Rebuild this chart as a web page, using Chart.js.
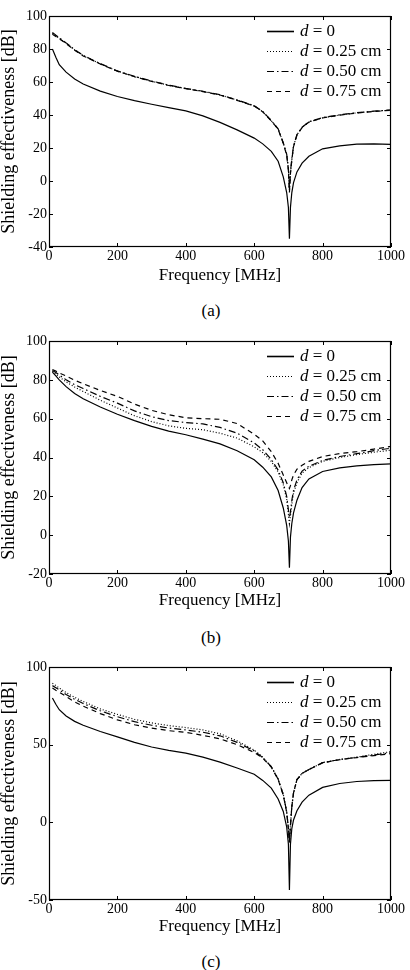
<!DOCTYPE html>
<html>
<head>
<meta charset="utf-8">
<script src="https://cdn.jsdelivr.net/npm/chart.js@4.4.1/dist/chart.umd.min.js"></script>
<style>
    body { margin: 0; background: #fff; }
    .panel { position: absolute; left: 0; width: 410px; height: 290px; }
    .caption { position: absolute; left: 0; width: 422px; text-align: center; font: 17px "Liberation Serif", serif; line-height: 20px; color: #000; }
</style>
</head>
<body>
<div class="panel" style="top:0px"><canvas id="chartA" width="410" height="290"></canvas></div>
<div class="caption" style="top:301px">(a)</div>
<div class="panel" style="top:325px"><canvas id="chartB" width="410" height="290"></canvas></div>
<div class="caption" style="top:628px">(b)</div>
<div class="panel" style="top:651px"><canvas id="chartC" width="410" height="290"></canvas></div>
<div class="caption" style="top:952px">(c)</div>

<script>
// --- Data ---
const freqMHz = [10, 20, 30, 50, 75, 100, 150, 200, 250, 300, 350, 400, 450, 500, 550, 600, 625, 650, 670, 685, 695, 700, 703, 706, 710, 715, 725, 740, 760, 800, 850, 900, 950, 1000];

const legendLabels = ['d = 0', 'd = 0.25 cm', 'd = 0.50 cm', 'd = 0.75 cm'];

// panel (a)
const seA0 = [80, 75, 70.5, 66, 61.8, 58.8, 54.5, 51.2, 48.7, 46.5, 44.5, 42.5, 39.5, 35.5, 31, 26, 22.5, 18, 12, 2.5, -7, -16, -35, -16, -7, -1, 5.5, 10.8, 15, 19.5, 21.3, 22.3, 22.5, 22.2];
const seA25 = [89.5, 88, 86.5, 83.5, 79.5, 76, 71, 66.6, 63.3, 60.5, 58, 56, 54.3, 52.2, 49, 45.5, 42, 36.5, 31.5, 23, 16, 7, -6, 5, 13, 21, 28, 32.5, 35.8, 38.3, 40, 41.3, 42.2, 43];
const seA50 = [90, 88.4, 86.8, 83.7, 79.6, 76.1, 71.1, 66.7, 63.4, 60.6, 58.1, 56.1, 54.4, 52.3, 49.1, 45.6, 42.1, 36.6, 31.6, 23.2, 16.3, 7.5, -5, 5.5, 13.3, 21.2, 28.1, 32.6, 35.9, 38.4, 40.1, 41.4, 42.3, 43.1];
const seA75 = [89, 87.6, 86.2, 83.3, 79.3, 75.8, 70.9, 66.5, 63.2, 60.4, 57.9, 55.9, 54.2, 52.1, 48.9, 45.4, 41.9, 36.4, 31.4, 22.8, 15.7, 6.5, -7, 4.5, 12.7, 20.8, 27.9, 32.4, 35.7, 38.2, 39.9, 41.2, 42.1, 42.9];

// panel (b)
const seB0 = [84, 82, 80, 76.5, 73, 70.3, 66, 62.3, 59, 56, 53.6, 51.7, 49.5, 47, 43.5, 38.8, 35, 30, 23, 14, 5, -3, -16.8, -1, 6, 11.5, 18, 24.5, 29, 32.8, 34.7, 35.7, 36.3, 36.7];
const seB25 = [84.5, 83, 81.5, 79, 76.3, 74, 69.5, 65.5, 61.5, 58.5, 56.3, 55, 54.3, 52.5, 50, 45.5, 42.5, 38, 32.5, 26, 18.5, 11, 6, 10, 16, 21.5, 27, 32, 34.8, 38, 40, 41.5, 42.7, 43.8];
const seB50 = [84.8, 83.8, 82.5, 80, 77.5, 75.5, 71.5, 68, 64, 61, 59, 58, 57.3, 55.5, 52.5, 47.5, 44, 39, 33.5, 27, 20, 13, 9, 12, 18, 23, 28.5, 33, 35.5, 38.5, 40.5, 42, 43.5, 44.8];
const seB75 = [85.3, 84.5, 83.5, 82, 79.8, 78, 74.5, 71.5, 67.5, 64.3, 62, 60.5, 60, 59.7, 57.5, 52, 48.5, 43, 37, 31, 27, 25, 24, 25.5, 28.5, 31, 34, 36, 38, 40.5, 42, 43, 44.3, 45.7];

// panel (c)
const seC0 = [80, 76, 72.5, 68.5, 65, 62.5, 58.5, 55, 51.5, 48.5, 46.3, 44.5, 42, 38.8, 35, 31, 27, 22, 15, 7, -3, -14, -43.5, -14, -4, 1.5, 7.5, 13, 17.5, 22.5, 25, 26.3, 26.8, 27];
const seC25 = [89.5, 88, 86.5, 83.5, 80.5, 77.8, 73, 69.5, 66.3, 64, 62.3, 61, 59.5, 57, 52.5, 46.5, 42, 36, 28, 18, 7, -4, -13, -2, 10, 19, 27.5, 31.5, 34, 38.5, 40.5, 42, 43.8, 45.5];
const seC50 = [88, 86.7, 85.3, 82.3, 79.2, 76.5, 71.8, 68, 64.8, 62.5, 60.7, 59.5, 58, 55.7, 51.5, 46, 41.7, 35.8, 27.8, 17.8, 6.8, -4, -13, -2, 10, 19, 27.5, 31.5, 34, 38.4, 40.4, 41.8, 43.3, 44.8];
const seC75 = [86.5, 85, 83.8, 81, 77.5, 74.8, 70, 66, 62.8, 60.7, 59, 57.9, 56, 53.8, 50, 45, 41.3, 35.5, 27.5, 17.5, 6.5, -4, -13, -2, 10, 19, 27.5, 31.5, 34, 38.3, 40.3, 41.7, 43, 44.2];

// --- Tick labels ---
const xTickValues = [0, 200, 400, 600, 800, 1000];
const yTicksA = [-40, -20, 0, 20, 40, 60, 80, 100];
const yTicksB = [-20, 0, 20, 40, 60, 80, 100];
const yTicksC = [-50, 0, 50, 100];

// --- Line styles (d = 0, 0.25, 0.50, 0.75) ---
const lineDashes = [[], [1, 2], [7, 3, 1.5, 3], [5, 4]];

const FONT = '"Liberation Serif", "Times New Roman", serif';
Chart.defaults.font.family = FONT;
Chart.defaults.color = '#000';

// box around the plot with inward ticks, like the original figure
const framePlugin = {
    id: 'frame',
    afterDatasetsDraw(chart) {
        const { ctx, chartArea: a, scales } = chart;
        ctx.save();
        ctx.strokeStyle = '#000';
        ctx.lineWidth = 1.2;
        ctx.strokeRect(Math.round(a.left) + 0.5, Math.round(a.top) + 0.5, Math.round(a.right - a.left) - 1, Math.round(a.bottom - a.top) - 1);
        ctx.lineWidth = 1;
        ctx.beginPath();
        scales.x.ticks.forEach(t => {
            const px = Math.round(scales.x.getPixelForValue(t.value)) + 0.5;
            ctx.moveTo(px, a.bottom); ctx.lineTo(px, a.bottom - 4);
            ctx.moveTo(px, a.top); ctx.lineTo(px, a.top + 4);
        });
        scales.y.ticks.forEach(t => {
            const py = Math.round(scales.y.getPixelForValue(t.value)) + 0.5;
            ctx.moveTo(a.left, py); ctx.lineTo(a.left + 4, py);
            ctx.moveTo(a.right, py); ctx.lineTo(a.right - 4, py);
        });
        ctx.stroke();
        ctx.restore();
    }
};

// legend with italic "d"
const legendPlugin = {
    id: 'dLegend',
    afterDatasetsDraw(chart) {
        const { ctx, chartArea } = chart;
        chart.data.datasets.forEach((ds, i) => {
            const y = Math.round(chartArea.top + 15 + i * 20) + 0.5;
            const x0 = chartArea.right - 124;
            ctx.save();
            ctx.strokeStyle = '#000';
            ctx.lineWidth = ds.borderDash.length ? 1.2 : 1.6;
            ctx.setLineDash(ds.borderDash);
            ctx.beginPath();
            ctx.moveTo(x0, y);
            ctx.lineTo(x0 + 27, y);
            ctx.stroke();
            ctx.setLineDash([]);
            ctx.fillStyle = '#000';
            ctx.textBaseline = 'middle';
            ctx.font = 'italic 17px ' + FONT;
            ctx.fillText('d', x0 + 33, y);
            const w = ctx.measureText('d').width;
            ctx.font = '17px ' + FONT;
            ctx.fillText(ds.label.slice(1), x0 + 33 + w, y);
            ctx.restore();
        });
    }
};

function makePanel(canvasId, seriesList, yMin, yMax, yTicks, plotHeight) {
    const ctx = document.getElementById(canvasId).getContext('2d');
    const datasets = seriesList.map((vals, i) => ({
        label: legendLabels[i],
        data: freqMHz.map((f, k) => ({ x: f, y: vals[k] })),
        borderColor: '#000',
        borderWidth: 1.2,
        borderDash: lineDashes[i],
        pointRadius: 0,
        tension: 0,
        fill: false
    }));

    return new Chart(ctx, {
        type: 'line',
        data: { datasets: datasets },
        options: {
            responsive: false,
            animation: false,
            devicePixelRatio: 1,
            layout: { padding: { top: 16, right: 19, left: 0, bottom: 0 } },
            plugins: { legend: { display: false }, tooltip: { enabled: false } },
            scales: {
                x: {
                    type: 'linear',
                    min: 0,
                    max: 1000,
                    afterBuildTicks: scale => { scale.ticks = xTickValues.map(v => ({ value: v })); },
                    afterFit: scale => { scale.height = 290 - 16 - plotHeight; },
                    grid: { display: false, drawTicks: false },
                    border: { display: false },
                    ticks: { autoSkip: false, maxRotation: 0, padding: 1, font: { size: 14 }, callback: v => String(v) },
                    title: { display: true, text: 'Frequency [MHz]', font: { size: 17 }, padding: { top: 0, bottom: 4 } }
                },
                y: {
                    type: 'linear',
                    min: yMin,
                    max: yMax,
                    afterBuildTicks: scale => { scale.ticks = yTicks.map(v => ({ value: v })); },
                    afterFit: scale => { scale.width = 49; },
                    grid: { display: false, drawTicks: false },
                    border: { display: false },
                    ticks: { padding: 2, font: { size: 14 }, callback: v => String(v) },
                    title: { display: true, text: 'Shielding effectiveness [dB]', font: { size: 18, lineHeight: 1 }, padding: 0 }
                }
            }
        },
        plugins: [framePlugin, legendPlugin]
    });
}

makePanel('chartA', [seA0, seA25, seA50, seA75], -40, 100, yTicksA, 231);
makePanel('chartB', [seB0, seB25, seB50, seB75], -20, 100, yTicksB, 233);
makePanel('chartC', [seC0, seC25, seC50, seC75], -50, 100, yTicksC, 233);
</script>
</body>
</html>
